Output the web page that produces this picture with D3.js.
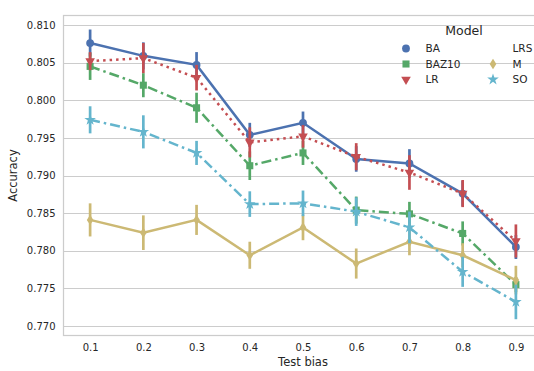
<!doctype html>
<html>

<head>
    <meta charset="utf-8">
    <title>Accuracy vs test bias</title>
    <script type="text/javascript" src="https://cdn.jsdelivr.net/npm/d3@7/dist/d3.min.js"></script>
    <style type="text/css">
        html,
        body {
            margin: 0;
            padding: 0;
            background: #fff;
        }

        #chart svg {
            display: block;
            font-family: "DejaVu Sans", sans-serif;
        }
    </style>
</head>

<body>
    <div id="chart"></div>

    <script type="text/javascript">
        // data
        var testBias = ["0.1", "0.2", "0.3", "0.4", "0.5", "0.6", "0.7", "0.8", "0.9"]
        var yTicks = [0.770, 0.775, 0.780, 0.785, 0.790, 0.795, 0.800, 0.805, 0.810]
        var models = ["BA", "BAZ10", "LR", "LRS", "M", "SO"]

        var accBA    = [0.8076, 0.8059, 0.8047, 0.7954, 0.7970, 0.7922, 0.7916, 0.7876, 0.7805]
        var accBAZ10 = [0.8045, 0.8020, 0.7990, 0.7913, 0.7930, 0.7854, 0.7849, 0.7823, 0.7755]
        var accLR    = [0.8052, 0.8056, 0.8030, 0.7944, 0.7952, 0.7925, 0.7904, 0.7876, 0.7813]
        var accM     = [0.7841, 0.7824, 0.7841, 0.7794, 0.7831, 0.7783, 0.7812, 0.7794, 0.7761]
        var accSO    = [0.7974, 0.7958, 0.7930, 0.7862, 0.7863, 0.7852, 0.7831, 0.7772, 0.7732]

        // half length of the confidence intervals
        var ciBA    = [0.0018, 0.0018, 0.0017, 0.0016, 0.0015, 0.0017, 0.0019, 0.0017, 0.0016]
        var ciBAZ10 = [0.0018, 0.0016, 0.0020, 0.0019, 0.0016, 0.0018, 0.0016, 0.0016, 0.0010]
        var ciLR    = [0.0012, 0.0020, 0.0017, 0.0020, 0.0015, 0.0018, 0.0023, 0.0018, 0.0022]
        var ciM     = [0.0022, 0.0023, 0.0020, 0.0018, 0.0017, 0.0020, 0.0018, 0.0016, 0.0019]
        var ciSO    = [0.0018, 0.0022, 0.0016, 0.0017, 0.0017, 0.0019, 0.0021, 0.0020, 0.0023]

        var colors = {
            "BA": "#4c72b0", "BAZ10": "#55a868", "LR": "#c44e52",
            "LRS": "#8172b2", "M": "#ccb974", "SO": "#64b5cd"
        }

        // LRS is listed in the legend but has no drawn points
        var series = [
            { name: "BA", values: accBA, ci: ciBA, marker: "circle", dash: null },
            { name: "BAZ10", values: accBAZ10, ci: ciBAZ10, marker: "square", dash: "10,4,2.5,4" },
            { name: "LR", values: accLR, ci: ciLR, marker: "tri", dash: "2.5,4" },
            { name: "M", values: accM, ci: ciM, marker: "diamond", dash: null },
            { name: "SO", values: accSO, ci: ciSO, marker: "star", dash: "10,4,2.5,4" }
        ]

        var markerOf = {}
        series.forEach(function (s) { markerOf[s.name] = s.marker })
        markerOf["LRS"] = "none"

        function markerPath(kind) {
            if (kind == "circle") return d3.symbol(d3.symbolCircle, 48)()
            if (kind == "square") return d3.symbol(d3.symbolSquare, 50)()
            if (kind == "tri") return d3.symbol(d3.symbolTriangle, 40)()
            if (kind == "star") return d3.symbol(d3.symbolStar, 42)()
            if (kind == "diamond") return "M0,-5.2L3.3,0L0,5.2L-3.3,0Z"
            return ""
        }

        function markerTransform(kind) {
            return kind == "tri" ? " rotate(180)" : ""
        }

        document.addEventListener("DOMContentLoaded", function (e) {
            var width = 534, height = 371
            var frame = { left: 63.5, top: 15.5, right: 545, bottom: 335.5 }

            var svg = d3.select("#chart")
                .append("svg")
                .attr("width", width)
                .attr("height", height)

            var x = d3.scalePoint()
                .domain(testBias)
                .range([frame.left, 542.5])
                .padding(0.5)

            var y = d3.scaleLinear()
                .domain([0.770, 0.810])
                .range([326, 25])

            var textColor = "#262626"

            // grid
            svg.append("g")
                .selectAll("line")
                .data(yTicks)
                .enter().append("line")
                .attr("x1", frame.left)
                .attr("x2", frame.right)
                .attr("y1", function (d) { return Math.round(y(d)) + 0.5 })
                .attr("y2", function (d) { return Math.round(y(d)) + 0.5 })
                .style("stroke", "#cccccc")
                .style("stroke-width", 1)

            // frame
            svg.append("rect")
                .attr("x", frame.left)
                .attr("y", frame.top)
                .attr("width", frame.right - frame.left)
                .attr("height", frame.bottom - frame.top)
                .style("fill", "none")
                .style("stroke", "#cccccc")
                .style("stroke-width", 1.25)

            // axes
            var yAxis = svg.append("g")
                .attr("transform", "translate(" + frame.left + ",0)")
                .call(d3.axisLeft(y).tickValues(yTicks).tickFormat(d3.format(".3f")).tickSize(0).tickPadding(8))
            var xAxis = svg.append("g")
                .attr("transform", "translate(0," + frame.bottom + ")")
                .call(d3.axisBottom(x).tickSize(0).tickPadding(8))

            ;[yAxis, xAxis].forEach(function (ax) {
                ax.select(".domain").remove()
                ax.selectAll("text")
                    .style("font-family", "DejaVu Sans")
                    .style("font-size", "10px")
                    .style("fill", textColor)
            })

            svg.append("text")
                .attr("transform", "translate(17," + ((frame.top + frame.bottom) / 2) + ") rotate(-90)")
                .attr("text-anchor", "middle")
                .style("font-size", "11.5px")
                .style("fill", textColor)
                .text("Accuracy")

            svg.append("text")
                .attr("x", (x("0.1") + x("0.9")) / 2)
                .attr("y", 366)
                .attr("text-anchor", "middle")
                .style("font-size", "11.5px")
                .style("fill", textColor)
                .text("Test bias")

            // series
            var line = d3.line()
                .x(function (d, i) { return x(testBias[i]) })
                .y(function (d) { return y(d) })

            series.forEach(function (s) {
                var g = svg.append("g").attr("class", "series")
                var c = colors[s.name]

                g.selectAll("line.err")
                    .data(s.values)
                    .enter().append("line")
                    .attr("class", "err")
                    .attr("x1", function (d, i) { return x(testBias[i]) })
                    .attr("x2", function (d, i) { return x(testBias[i]) })
                    .attr("y1", function (d, i) { return y(d - s.ci[i]) })
                    .attr("y2", function (d, i) { return y(d + s.ci[i]) })
                    .style("stroke", c)
                    .style("stroke-width", 2.7)

                g.append("path")
                    .datum(s.values)
                    .attr("d", line)
                    .style("fill", "none")
                    .style("stroke", c)
                    .style("stroke-width", 2.5)
                    .style("stroke-dasharray", s.dash)

                g.selectAll("path.mark")
                    .data(s.values)
                    .enter().append("path")
                    .attr("class", "mark")
                    .attr("d", markerPath(s.marker))
                    .attr("transform", function (d, i) {
                        return "translate(" + x(testBias[i]) + "," + y(d) + ")" + markerTransform(s.marker)
                    })
                    .style("fill", c)
            })

            // legend
            var legend = svg.append("g")
            legend.append("text")
                .attr("x", 464)
                .attr("y", 35)
                .attr("text-anchor", "middle")
                .style("font-size", "12.5px")
                .style("fill", textColor)
                .text("Model")

            var item = legend.selectAll("g.item")
                .data(models)
                .enter().append("g")
                .attr("class", "item")
                .attr("transform", function (d, i) {
                    var col = Math.floor(i / 3), row = i % 3
                    return "translate(" + (406 + col * 87) + "," + (48.5 + row * 15.5) + ")"
                })

            item.append("path")
                .attr("d", function (d) { return markerPath(markerOf[d]) })
                .attr("transform", function (d) { return markerTransform(markerOf[d]) })
                .style("fill", function (d) { return colors[d] })

            item.append("text")
                .attr("x", 19.5)
                .attr("y", 3.8)
                .style("font-size", "10.5px")
                .style("fill", textColor)
                .text(function (d) { return d })
        })
    </script>
</body>

</html>
